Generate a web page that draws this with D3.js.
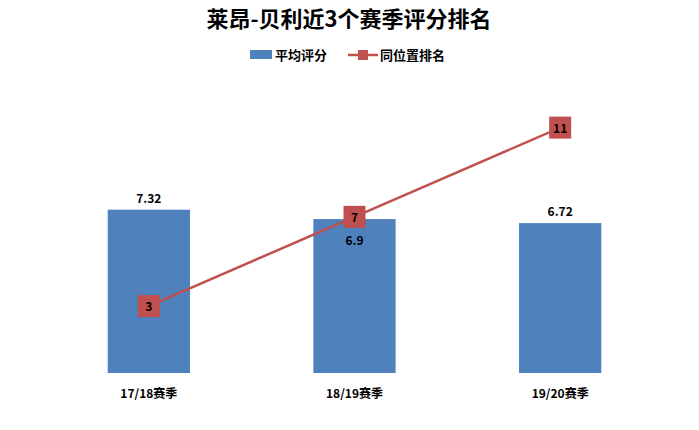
<!DOCTYPE html><html><head><meta charset="utf-8"><script src="https://cdn.jsdelivr.net/npm/d3@7"></script>
<style>body{margin:0;background:#fff}text{font-family:"Noto Sans CJK SC",sans-serif}</style></head><body><svg id="c" width="699" height="430"></svg>
<script>
const categories=["17/18赛季","18/19赛季","19/20赛季"];
const ratings=[7.32,6.9,6.72];
const ranks=[3,7,11];
const svg=d3.select("#c");
const x=d3.scaleBand().domain(categories).range([46,663]).paddingInner(0.6).paddingOuter(0.3);
const y=d3.scaleLinear().domain([0,13]).range([373,83]);
const y2=d3.scaleLinear().domain([0,13]).range([373,83]);
const blue="#4f81bd",red="#c0504d";
svg.append("text").attr("x",349).attr("y",27).attr("text-anchor","middle").attr("font-size",22).attr("font-weight","bold").text("莱昂-贝利近3个赛季评分排名");
// legend
svg.append("rect").attr("x",250).attr("y",50).attr("width",22).attr("height",9).attr("fill",blue);
svg.append("text").attr("x",275).attr("y",60).attr("font-size",13).attr("font-weight","bold").text("平均评分");
svg.append("line").attr("x1",348).attr("x2",378).attr("y1",55).attr("y2",55).attr("stroke",red).attr("stroke-width",2.5);
svg.append("rect").attr("x",358).attr("y",50).attr("width",10).attr("height",10).attr("fill",red);
svg.append("text").attr("x",380).attr("y",60).attr("font-size",13).attr("font-weight","bold").text("同位置排名");
categories.forEach((c,i)=>{
  svg.append("rect").attr("x",x(c)).attr("y",y(ratings[i])).attr("width",x.bandwidth()).attr("height",y(0)-y(ratings[i])).attr("fill",blue);
  const inside=i===1;
  svg.append("text").attr("x",x(c)+x.bandwidth()/2).attr("y",inside?y(ratings[i])+26:y(ratings[i])-7).attr("text-anchor","middle").attr("font-size",12).attr("font-weight","bold").text(ratings[i]);
  svg.append("text").attr("x",x(c)+x.bandwidth()/2).attr("y",398).attr("text-anchor","middle").attr("font-size",12).attr("font-weight","bold").text(c);
});
const cx=c=>x(c)+x.bandwidth()/2;
svg.append("path").attr("d",d3.line().x((d,i)=>cx(categories[i])).y(d=>y2(d))(ranks)).attr("fill","none").attr("stroke",red).attr("stroke-width",2.5);
ranks.forEach((r,i)=>{
  svg.append("rect").attr("x",cx(categories[i])-11).attr("y",y2(r)-11).attr("width",22).attr("height",22).attr("fill",red);
  svg.append("text").attr("x",cx(categories[i])).attr("y",y2(r)+5).attr("text-anchor","middle").attr("font-size",12).attr("font-weight","bold").text(r);
});
</script></body></html>
